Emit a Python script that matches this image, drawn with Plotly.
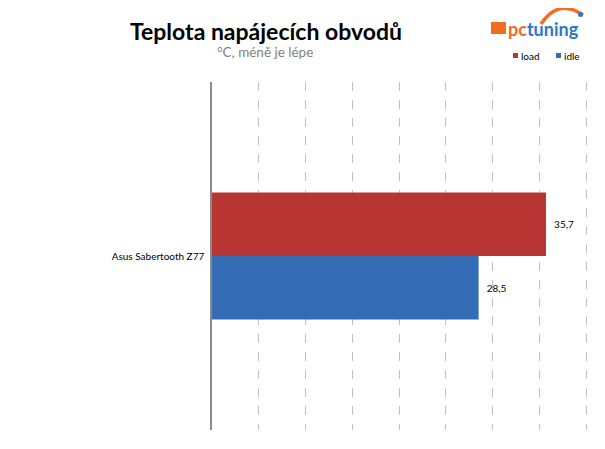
import plotly.graph_objects as go

categories = ["Asus Sabertooth Z77"]
load_values = [35.7]
idle_values = [28.5]
series_names = ["load", "idle"]
series_colors = ["#b73634", "#336bb4"]

# target plot area in page pixels; the page body has an 8px default offset
OFF = 8
L, R, T, B = 212, 589, 82, 430
def px(x):
    return (x - L) / (R - L)
def py(y):
    return (B - y) / (B - T)

fig = go.Figure()
fig.add_trace(go.Bar(
    y=categories, x=idle_values, name=series_names[1], orientation="h",
    marker=dict(color=series_colors[1], line=dict(width=0)),
    text=idle_values, texttemplate="\u00a0\u00a0%{x:.1f}", textposition="outside",
    textfont=dict(size=10, color="#000000", family="Lato"), cliponaxis=False,
    showlegend=False,
))
fig.add_trace(go.Bar(
    y=categories, x=load_values, name=series_names[0], orientation="h",
    marker=dict(color=series_colors[0], line=dict(width=0)),
    text=load_values, texttemplate="\u00a0\u00a0%{x:.1f}", textposition="outside",
    textfont=dict(size=10, color="#000000", family="Lato"), cliponaxis=False,
    showlegend=False,
))

fig.update_layout(
    width=605, height=449,
    margin=dict(l=L - OFF, r=605 - (R - OFF), t=T - OFF, b=449 - (B - OFF), autoexpand=False),
    paper_bgcolor="white", plot_bgcolor="white",
    barmode="group", bargap=0.635, bargroupgap=0,
    separators=", ",
    showlegend=False,
    xaxis=dict(range=[0, 40.3], dtick=5, showgrid=True, griddash="dash",
               gridcolor="#c0c0c0", gridwidth=1, showticklabels=False,
               zeroline=False, showline=False, ticks="", fixedrange=True),
    yaxis=dict(showline=True, linecolor="#8a8a8a", linewidth=1.5,
               tickfont=dict(size=10, family="Lato", color="#000000"),
               ticks="", showgrid=False, ticklabelstandoff=4),
    font=dict(family="Lato"),
)

# title and subtitle
fig.add_annotation(text="<b>Teplota napájecích obvodů</b>", xref="paper", yref="paper",
                   x=px(265.5), y=py(31), xanchor="center", yanchor="middle",
                   showarrow=False, font=dict(size=23, family="Lato", color="#000000"))
fig.add_annotation(text="°C, méně je lépe", xref="paper", yref="paper",
                   x=px(265), y=py(52), xanchor="center", yanchor="middle",
                   showarrow=False, font=dict(size=13.5, family="Lato", color="#7f7f7f"))

# legend (manual, small square markers)
legend_items = [(series_names[0], series_colors[0], 513), (series_names[1], series_colors[1], 556)]
for name, color, x0 in legend_items:
    fig.add_shape(type="rect", xref="paper", yref="paper",
                  x0=px(x0), x1=px(x0 + 5), y0=py(58), y1=py(53),
                  fillcolor=color, line=dict(width=0))
    fig.add_annotation(text=name, xref="paper", yref="paper",
                       x=px(x0 + 6), y=py(55.5), xanchor="left", yanchor="middle",
                       showarrow=False, font=dict(size=10, family="Lato", color="#000000"))

# logo
fig.add_shape(type="rect", xref="paper", yref="paper",
              x0=px(491), x1=px(506), y0=py(34), y1=py(22),
              fillcolor="#f26c22", line=dict(width=0))
fig.add_annotation(text="<b><span style='color:#f26c22'>pc</span><span style='color:#2a78c8'>tuning</span></b>",
                   xref="paper", yref="paper",
                   x=px(506), y=py(29), xanchor="left", yanchor="middle",
                   showarrow=False, font=dict(size=18, family="Lato"))
fig.add_shape(type="path", xref="paper", yref="paper",
              path="M %f,%f Q %f,%f %f,%f" % (px(541), py(24), px(558), py(-2), px(583), py(15)),
              line=dict(color="#f26c22", width=3.5))
fig.add_shape(type="circle", xref="paper", yref="paper",
              x0=px(578), x1=px(583), y0=py(17), y1=py(12),
              fillcolor="#2a78c8", line=dict(width=0))

fig.write_html("out.html")
